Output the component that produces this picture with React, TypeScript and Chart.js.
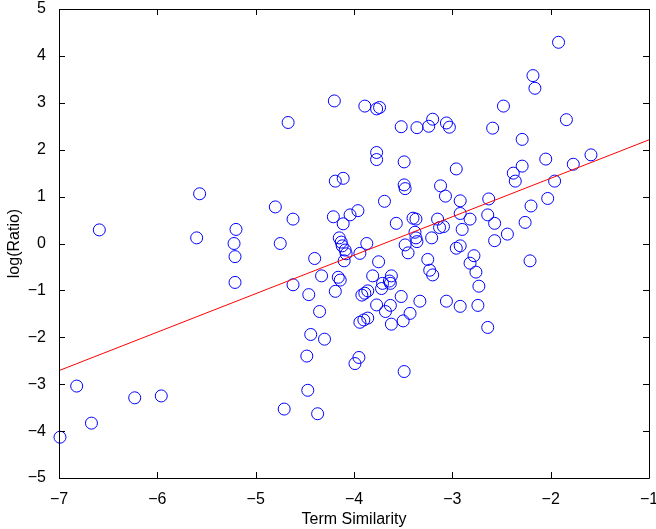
import React, { useEffect, useRef } from "react";
import { Chart, registerables } from "chart.js";

Chart.register(...registerables);

// Term similarity (x) vs log(Ratio) (y)
const termSimilarity: number[] = [
  -6.99, -6.82, -6.67, -6.59, -6.23, -5.96, -5.57, -5.60, -5.20, -5.22, -5.21, -5.21,
  -4.20, -4.67, -3.89, -3.77, -3.74, -3.52, -3.36, -3.24, -3.20, -3.06, -3.03,
  -3.77, -3.77, -3.49, -2.96, -4.19, -4.11, -3.49, -3.48, -3.12, -3.07,
  -4.80, -4.62, -3.69, -4.21, -4.11, -4.04, -3.96, -3.57, -3.40, -3.37, -3.15, -3.13, -3.09, -3.21,
  -4.75, -4.15, -4.13, -3.87, -3.48, -3.38, -3.37, -3.36,
  -1.92, -2.18, -2.16, -2.48, -1.84, -2.59, -2.29, -2.05, -1.59, -1.77, -2.29, -2.38, -2.36, -1.96,
  -2.92, -2.63, -2.03, -2.20, -2.92, -2.64, -2.82, -2.57, -2.26, -2.90, -2.44, -2.57,
  -2.92, -2.96, -2.78, -2.82, -2.76, -2.21, -2.73, -3.06, -2.92, -2.74, -2.64,
  -4.40, -4.62, -4.33, -4.46, -4.35, -4.44, -4.30, -4.48, -4.47, -4.71, -4.37,
  -3.95, -3.99, -3.49, -4.12, -4.09, -4.08, -4.10, -3.94, -3.75, -3.81, -4.16, -4.14, -4.19,
  -3.92, -3.89, -3.86, -3.77, -3.63, -3.68, -3.94, -3.90, -3.86, -3.62, -3.50, -3.43, -3.52, -3.33,
  -3.62, -3.64, -3.71, -3.72, -3.63, -3.25, -3.23, -3.20, -3.45,
];

const logRatio: number[] = [
  -4.13, -3.04, -3.83, 0.29, -3.29, -3.25, 1.06, 0.12, 0.30, 0.00, -0.28, -0.83,
  3.04, 2.58, 2.93, 2.87, 2.90, 2.49, 2.47, 2.50, 2.65, 2.57, 2.48,
  1.94, 1.79, 1.74, 1.59, 1.33, 1.39, 1.25, 1.17, 1.23, 1.01,
  0.78, 0.52, 0.90, 0.57, 0.42, 0.61, 0.70, 0.43, 0.54, 0.52, 0.52, 0.34, 0.36, 0.12,
  0.00, 0.12, 0.03, 0.00, -0.03, 0.24, 0.12, 0.04,
  4.29, 3.58, 3.31, 2.93, 2.64, 2.46, 2.22, 1.80, 1.89, 1.69, 1.65, 1.50, 1.33, 1.33,
  0.91, 0.95, 0.96, 0.80, 0.64, 0.61, 0.52, 0.43, 0.45, 0.30, 0.20, 0.06,
  -0.05, -0.10, -0.26, -0.42, -0.61, -0.37, -0.91, -1.23, -1.34, -1.32, -1.79,
  -0.32, -0.88, -0.69, -1.09, -1.45, -1.94, -2.04, -2.40, -3.13, -3.53, -3.63,
  -2.43, -2.56, -2.73, -0.05, -0.14, -0.22, -0.37, -0.21, -0.39, -0.69, -0.72, -0.78, -1.02,
  -1.10, -1.06, -1.01, -1.31, -1.32, -1.45, -1.68, -1.63, -1.59, -1.72, -1.65, -1.49, -1.13, -1.23,
  -0.69, -0.80, -0.85, -0.96, -0.85, -0.34, -0.57, -0.67, -0.20,
];

// Fitted regression line end points
const fitX: number[] = [-7, -1];
const fitY: number[] = [-2.71, 2.21];

const xTitle = "Term Similarity";
const yTitle = "log(Ratio)";

const FONT = "'Liberation Sans', Arial, Helvetica, sans-serif";

const framePlugin = {
  id: "matlabFrame",
  afterDatasetsDraw(chart: any) {
    const { ctx, chartArea: a, scales } = chart;
    ctx.save();
    ctx.strokeStyle = "#000";
    ctx.lineWidth = 1;
    ctx.beginPath();
    ctx.rect(Math.round(a.left) + 0.5, Math.round(a.top) + 0.5, Math.round(a.right - a.left), Math.round(a.bottom - a.top));
    ctx.stroke();
    const len = 6;
    ctx.beginPath();
    scales.x.ticks.forEach((t: any) => {
      const px = Math.round(scales.x.getPixelForValue(t.value)) + 0.5;
      ctx.moveTo(px, a.bottom);
      ctx.lineTo(px, a.bottom - len);
      ctx.moveTo(px, a.top);
      ctx.lineTo(px, a.top + len);
    });
    scales.y.ticks.forEach((t: any) => {
      const py = Math.round(scales.y.getPixelForValue(t.value)) + 0.5;
      ctx.moveTo(a.left, py);
      ctx.lineTo(a.left + len, py);
      ctx.moveTo(a.right, py);
      ctx.lineTo(a.right - len, py);
    });
    ctx.stroke();
    ctx.restore();
  },
};

const minusFmt = (v: any) => String(v).replace("-", "\u2212");

export default function App() {
  const ref = useRef<HTMLCanvasElement>(null);
  useEffect(() => {
    if (!ref.current) return;
    const pts = termSimilarity.map((x, i) => ({ x, y: logRatio[i] }));
    const line = fitX.map((x, i) => ({ x, y: fitY[i] }));
    const chart = new Chart(ref.current, {
      type: "scatter",
      data: {
        datasets: [
          {
            type: "line",
            data: line,
            borderColor: "#ff0000",
            borderWidth: 1,
            pointRadius: 0,
            fill: false,
          } as any,
          {
            data: pts,
            clip: false,
            pointStyle: "circle",
            pointRadius: 6,
            pointBorderColor: "#0000ff",
            pointBackgroundColor: "rgba(0,0,0,0)",
            pointBorderWidth: 1,
            borderColor: "#0000ff",
          } as any,
        ],
      },
      plugins: [framePlugin],
      options: {
        responsive: false,
        animation: false,
        events: [],
        layout: { padding: { top: 9, right: 2, left: 0, bottom: 0 } },
        plugins: { legend: { display: false }, tooltip: { enabled: false } },
        scales: {
          x: {
            type: "linear",
            min: -7,
            max: -1,
            grid: { display: false },
            border: { display: false },
            ticks: {
              stepSize: 1,
              color: "#000",
              padding: 4,
              font: { family: FONT, size: 16 },
              callback: minusFmt,
            },
            title: {
              display: true,
              text: xTitle,
              color: "#000",
              font: { family: FONT, size: 16 },
              padding: { top: 0, bottom: 0 },
            },
            afterFit(scale: any) {
              scale.height = 51;
              scale.paddingLeft = 0;
              scale.paddingRight = 0;
            },
          },
          y: {
            type: "linear",
            min: -5,
            max: 5,
            grid: { display: false },
            border: { display: false },
            ticks: {
              stepSize: 1,
              color: "#000",
              padding: 5,
              font: { family: FONT, size: 16 },
              callback: minusFmt,
            },
            title: {
              display: true,
              text: yTitle,
              color: "#000",
              font: { family: FONT, size: 16 },
              padding: { top: 5, bottom: 0 },
            },
            afterFit(scale: any) {
              scale.width = 59;
              scale.paddingTop = 0;
              scale.paddingBottom = 0;
            },
          },
        },
      },
    });
    return () => chart.destroy();
  }, []);
  return (
    <div style={{ position: "fixed", left: 0, top: 0, width: 656, height: 529, background: "#fff" }}>
      <canvas ref={ref} width={656} height={529} style={{ display: "block" }} />
    </div>
  );
}
